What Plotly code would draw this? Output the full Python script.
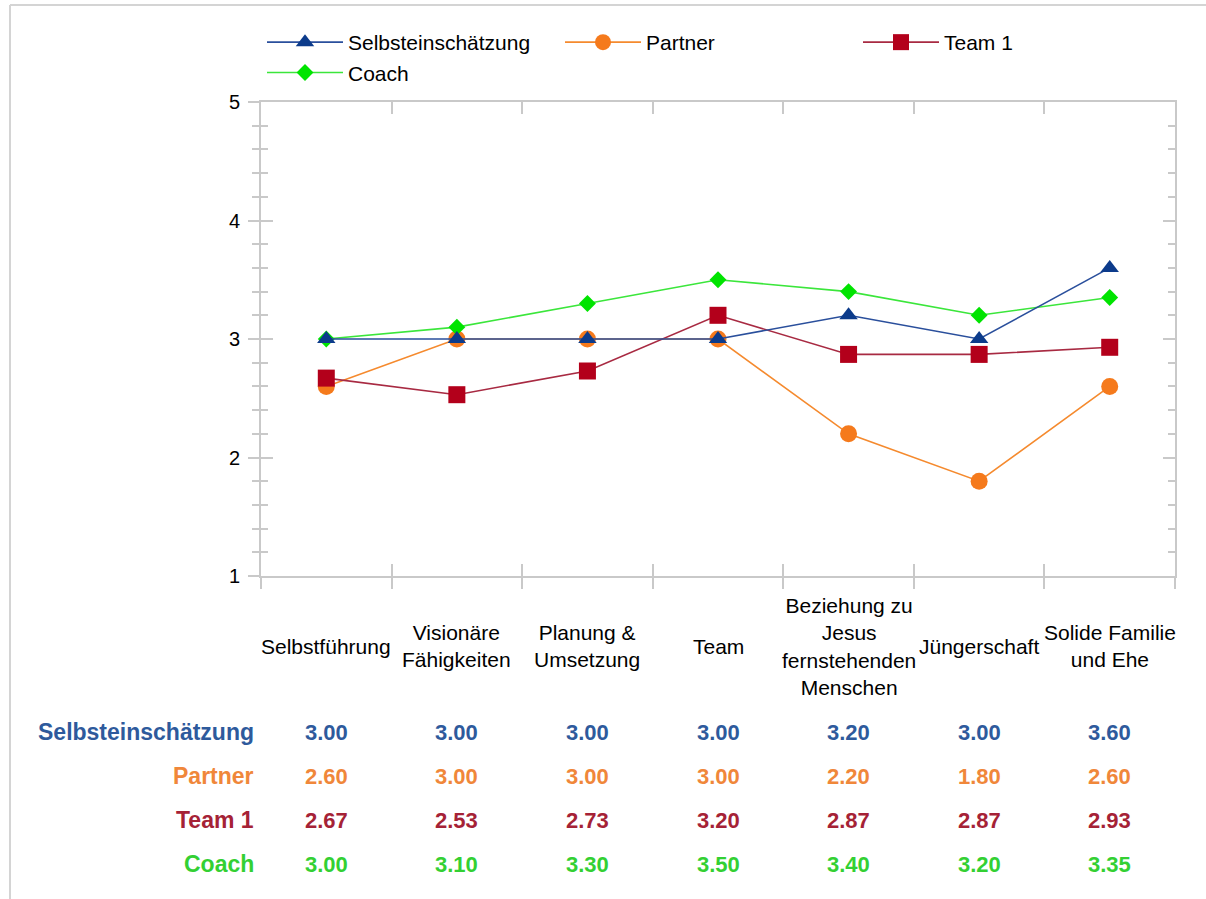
import plotly.graph_objects as go

# Competency categories (x axis) and the four rating series
categories = [
    "Selbstführung",
    "Visionäre<br>Fähigkeiten",
    "Planung &<br>Umsetzung",
    "Team",
    "Beziehung zu<br>Jesus<br>fernstehenden<br>Menschen",
    "Jüngerschaft",
    "Solide Familie<br>und Ehe",
]
series_names = ["Selbsteinschätzung", "Partner", "Team 1", "Coach"]
selbst = [3.00, 3.00, 3.00, 3.00, 3.20, 3.00, 3.60]
partner = [2.60, 3.00, 3.00, 3.00, 2.20, 1.80, 2.60]
team1 = [2.67, 2.53, 2.73, 3.20, 2.87, 2.87, 2.93]
coach = [3.00, 3.10, 3.30, 3.50, 3.40, 3.20, 3.35]
y_ticks = [1, 2, 3, 4, 5]

values = [selbst, partner, team1, coach]

# Styling per series
line_colors = ["#2A4F9C", "#F58A2E", "#A82A42", "#3BE63B"]
marker_colors = ["#0C3B8B", "#F57A1C", "#B3001B", "#00E400"]
text_colors = ["#2E5A9C", "#F0873A", "#A52236", "#33D033"]
symbols = ["triangle-up", "circle", "square", "diamond"]
sizes = [16, 17, 17, 13]
draw_order = [1, 2, 3, 0]  # Partner, Team 1, Coach, then Selbsteinschätzung on top

W, H = 1206, 899
ML, MR, MT, MB = 261, 31, 102, 323
PW, PH = W - ML - MR, H - MT - MB

def px_to_paper_x(px):
    return (px - ML) / PW

def px_to_paper_y(py):
    return (H - MB - py) / PH

FONT = "Liberation Sans, Arial, sans-serif"
GRID = "#C9C9C9"

fig = go.Figure()
for i in draw_order:
    fig.add_trace(go.Scatter(
        x=categories,
        y=values[i],
        name=series_names[i],
        mode="lines+markers",
        line=dict(color=line_colors[i], width=1.6),
        marker=dict(symbol=symbols[i], size=sizes[i], color=marker_colors[i],
                    line=dict(width=0)),
        legendrank=i + 1,
    ))

# Empty trace so the overlaid frame axes (inward ticks, top/right edges) get drawn
fig.add_trace(go.Scatter(x=[], y=[], xaxis="x2", yaxis="y2",
                         showlegend=False, hoverinfo="skip"))

annotations = []
# Category labels, vertically centred under the axis
for c in categories:
    annotations.append(dict(
        x=c, xref="x", y=px_to_paper_y(646), yref="paper",
        text=c, showarrow=False, xanchor="center", yanchor="middle",
        font=dict(family=FONT, size=21, color="#000000"), align="center",
    ))

# Value table under the chart
row_y = [732, 776, 820, 864]
for i, name in enumerate(series_names):
    yy = px_to_paper_y(row_y[i])
    annotations.append(dict(
        x=px_to_paper_x(256), xref="paper", y=yy, yref="paper",
        text=f"<b>{name}</b>", showarrow=False, xanchor="right", yanchor="middle",
        font=dict(family=FONT, size=23, color=text_colors[i]),
    ))
    for c, v in zip(categories, values[i]):
        annotations.append(dict(
            x=c, xref="x", y=yy, yref="paper",
            text=f"<b>{v:.2f}</b>", showarrow=False, xanchor="center", yanchor="middle",
            font=dict(family=FONT, size=22, color=text_colors[i]),
        ))

n = len(categories)
boundaries = [k - 0.5 for k in range(n + 1)]

fig.update_layout(
    width=W, height=H,
    margin=dict(l=ML, r=MR, t=MT, b=MB),
    paper_bgcolor="white", plot_bgcolor="white",
    font=dict(family=FONT, size=20, color="#000000"),
    showlegend=True,
    legend=dict(
        orientation="h", x=px_to_paper_x(262), y=px_to_paper_y(22),
        xanchor="left", yanchor="top",
        entrywidth=207, entrywidthmode="pixels", itemwidth=76,
        font=dict(family=FONT, size=21, color="#000000"),
        tracegroupgap=0, bgcolor="rgba(0,0,0,0)",
    ),
    xaxis=dict(
        type="category", categoryorder="array", categoryarray=categories,
        tickson="boundaries", ticks="outside", ticklen=11, tickwidth=1.5,
        tickcolor=GRID, showticklabels=False,
        showline=True, linecolor=GRID, linewidth=2, showgrid=False, zeroline=False,
        range=[-0.5, n - 0.5],
    ),
    xaxis2=dict(
        overlaying="x", anchor="y", range=[-0.5, n - 0.5],
        tickmode="array", tickvals=boundaries, ticks="inside", ticklen=12,
        tickwidth=1.5, tickcolor=GRID, showticklabels=False,
        showline=True, linecolor=GRID, linewidth=2, mirror="ticks",
        showgrid=False, zeroline=False,
    ),
    yaxis=dict(
        range=[1, 5], tickmode="array", tickvals=y_ticks,
        ticks="outside", ticklen=11, tickwidth=1.5, tickcolor=GRID,
        minor=dict(dtick=0.2, ticks="outside", ticklen=7, tickwidth=1.5,
                   tickcolor=GRID, showgrid=False),
        showline=True, linecolor=GRID, linewidth=2, showgrid=False, zeroline=False,
        tickfont=dict(family=FONT, size=20, color="#000000"), ticklabelstandoff=4,
    ),
    yaxis2=dict(
        overlaying="y", anchor="x", side="left", range=[1, 5],
        tickmode="array", tickvals=y_ticks, ticks="inside", ticklen=12,
        tickwidth=1.5, tickcolor=GRID,
        minor=dict(dtick=0.2, ticks="inside", ticklen=7, tickwidth=1.5,
                   tickcolor=GRID, showgrid=False),
        showticklabels=False, showline=True, linecolor=GRID, linewidth=2,
        mirror="ticks", showgrid=False, zeroline=False,
    ),
    annotations=annotations,
    shapes=[
        # light outer frame (top and left edges)
        dict(type="line", xref="paper", yref="paper",
             x0=px_to_paper_x(10), x1=px_to_paper_x(W + 5),
             y0=px_to_paper_y(5), y1=px_to_paper_y(5),
             line=dict(color="#D4D4D4", width=2), layer="below"),
        dict(type="line", xref="paper", yref="paper",
             x0=px_to_paper_x(10), x1=px_to_paper_x(10),
             y0=px_to_paper_y(5), y1=px_to_paper_y(H + 5),
             line=dict(color="#D4D4D4", width=2), layer="below"),
    ],
)

fig.write_html("out.html")
